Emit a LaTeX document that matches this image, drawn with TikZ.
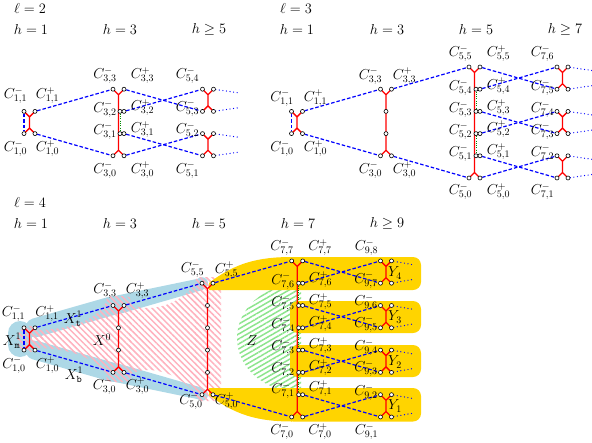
\documentclass[tikz,border=0pt]{standalone}
\usetikzlibrary{patterns,patterns.meta}
\definecolor{gold}{RGB}{255,212,0}
\definecolor{lblue}{RGB}{173,216,230}
\definecolor{pinkh}{RGB}{255,178,190}
\definecolor{greenh}{RGB}{140,228,140}
\definecolor{dgreen}{RGB}{0,140,0}
\pgfdeclarelayer{bg}\pgfdeclarelayer{ln}\pgfsetlayers{bg,ln,main}
\newcommand\PairT[3]{\node[pt] (#1m) at ({#2-5.5},#3) {};\node[pt] (#1p) at ({#2+5.5},#3) {};\coordinate (#1j) at (#2,{#3+5.5});}
\newcommand\PairB[3]{\node[pt] (#1m) at ({#2-5.5},#3) {};\node[pt] (#1p) at ({#2+5.5},#3) {};\coordinate (#1j) at (#2,{#3-5.5});}
\newcommand\PairI[3]{\node[pt] (#1m) at ({#2+1.5},#3) {};\node[pt] (#1p) at ({#2+5.5},#3) {};}
\newcommand\Single[3]{\node[pt] (#1) at (#2,#3) {};}
\newcommand\lab[4]{\node[lab] (#1) at (#2,#3) {$#4$};}
\newcommand\RedU[2]{\draw[rl] (#1m.center) -- (#1j) -- (#1p.center) (#2m.center) -- (#2j) -- (#2p.center) (#1j) -- (#2j);}
\begin{document}
\begin{tikzpicture}[x=1pt,y=-1pt,font=\fontsize{14.4}{17}\selectfont,
  pt/.style={circle,draw=black,fill=white,inner sep=0pt,minimum size=4pt,line width=0.6pt},
  lab/.style={inner sep=0pt},
  bdash/.style={blue,line width=1.2pt,dash pattern=on 3.5pt off 2pt},
  bdot/.style={blue,line width=1.3pt,line cap=round,dash pattern=on 0pt off 3.6pt},
  rl/.style={red,line width=1.3pt},
  gdot/.style={dgreen,line width=0.9pt,dash pattern=on 0.9pt off 1.4pt},
  pinkhatch/.style={pattern={Lines[angle=-45,distance=4.3pt,line width=1.5pt]},pattern color=pinkh},
  greenhatch/.style={pattern={Lines[angle=30,distance=4.3pt,line width=1.5pt]},pattern color=greenh}]
\useasboundingbox (0,0) rectangle (592,442);
% ---------------- l = 2 ----------------
\PairT{a1t}{29.5}{111.4}\PairB{a1b}{29.5}{133.6}
\PairT{a3t}{118.5}{89.2}\PairI{a3i3}{118.5}{111.4}\PairI{a3i2}{118.5}{133.6}\PairB{a3b}{118.5}{155.8}
\PairT{a5u}{208}{89.2}\PairB{a5v}{208}{111.4}\PairT{a5w}{208}{133.6}\PairB{a5x}{208}{155.8}
\coordinate (a5ue) at (237.5,92.7);\coordinate (a5ve) at (237.5,107.9);
\coordinate (a5we) at (237.5,137.1);\coordinate (a5xe) at (237.5,152.3);
% ---------------- l = 3 ----------------
\PairT{b1t}{297}{111.4}\PairB{b1b}{297}{133.6}
\PairT{b3t}{386}{89.2}\Single{b3s3}{386}{111.4}\Single{b3s2}{386}{133.6}\PairB{b3b}{386}{155.8}
\PairT{b5t}{474.5}{67}\PairI{b5i4}{474.5}{89.2}\PairI{b5i3}{474.5}{111.4}\PairI{b5i2}{474.5}{133.6}\PairI{b5i1}{474.5}{155.8}\PairB{b5b}{474.5}{178}
\PairT{b7u}{562.5}{67}\PairB{b7v}{562.5}{89.2}\PairT{b7w}{562.5}{111.4}\PairB{b7x}{562.5}{133.6}\PairT{b7y}{562.5}{155.8}\PairB{b7z}{562.5}{178}
\coordinate (b7ue) at (592,70.5);\coordinate (b7ve) at (592,85.7);
\coordinate (b7we) at (592,114.9);\coordinate (b7xe) at (592,130.1);
\coordinate (b7ye) at (592,159.3);\coordinate (b7ze) at (592,174.5);
% ---------------- l = 4 ----------------
\PairT{c1t}{29.5}{327.8}\PairB{c1b}{29.5}{350.1}
\PairT{c3t}{118.5}{305.5}\Single{c3s4}{118.5}{327.8}\Single{c3s3}{118.5}{350.1}\PairB{c3b}{118.5}{372.4}
\PairT{c5t}{207.5}{283.2}\Single{c5s5}{207.5}{305.5}\Single{c5s4}{207.5}{327.8}\Single{c5s3}{207.5}{350.1}\Single{c5s2}{207.5}{372.4}\PairB{c5b}{207.5}{394.7}
\PairT{c7t}{297.2}{260.9}\PairI{c7i6}{297.2}{283.2}\PairI{c7i5}{297.2}{305.5}\PairI{c7i4}{297.2}{327.8}\PairI{c7i3}{297.2}{350.1}\PairI{c7i2}{297.2}{372.4}\PairI{c7i1}{297.2}{394.7}\PairB{c7b}{297.2}{417}
\PairT{c9a}{386}{260.9}\PairB{c9b}{386}{283.2}\PairT{c9c}{386}{305.5}\PairB{c9d}{386}{327.8}
\PairT{c9e}{386}{350.1}\PairB{c9f}{386}{372.4}\PairT{c9g}{386}{394.7}\PairB{c9h}{386}{417}
\coordinate (c9ae) at (414,264.9);\coordinate (c9be) at (414,279.2);
\coordinate (c9ce) at (414,309.5);\coordinate (c9de) at (414,323.8);
\coordinate (c9ee) at (414,354.1);\coordinate (c9fe) at (414,368.4);
\coordinate (c9ge) at (414,398.7);\coordinate (c9he) at (414,413);
% ---------------- regions ----------------
\begin{pgfonlayer}{bg}
\draw[lblue,line width=24pt,line cap=round] (20,333) -- (20,345);
\draw[lblue,line width=19pt,line cap=round] (c1tp.center) -- (c3tm.center);
\fill[lblue] (110.7,296.8) -- (200.6,278.2) -- (203.4,289.8) -- (115.3,315.2) -- cycle;
\fill[lblue] (c5tm.center) circle (6);
\draw[lblue,line width=19pt,line cap=round] (c1bp.center) -- (c3bm.center);
\fill[lblue] (110.7,381.1) -- (200.6,399.7) -- (203.4,388.1) -- (115.3,362.7) -- cycle;
\fill[lblue] (c5bm.center) circle (6);
\fill[pinkhatch] (30,339) circle (13);
\fill[pinkhatch] (34,330) .. controls (70,330) and (100,320) .. (108,298) -- (108,380) .. controls (100,358) and (70,348) .. (34,348) -- cycle;
\fill[pinkhatch,rounded corners=5pt] (106,296) rectangle (131,382);
\fill[pinkhatch] (129,303) .. controls (150,316) and (185,302) .. (197,281) -- (197,397) .. controls (185,376) and (150,362) .. (129,375) -- cycle;
\fill[pinkhatch,rounded corners=5pt] (195,277) rectangle (221,401);
\fill[greenhatch] (301,284) .. controls (262,284) and (237,310) .. (237,338) .. controls (237,366) and (262,392) .. (301,392) -- cycle;
\fill[gold] (209,290) -- (209,283) .. controls (235,263) and (258,257) .. (292,257) -- (292,290) -- cycle;
\fill[gold,rounded corners=8pt] (285,257) rectangle (421,290);
\fill[gold] (209,388) -- (209,395) .. controls (235,415) and (258,421.5) .. (292,421.5) -- (292,388) -- cycle;
\fill[gold,rounded corners=8pt] (285,388) rectangle (421,421.5);
\fill[gold,rounded corners=8pt] (290,301) rectangle (421,333);
\fill[gold,rounded corners=8pt] (290,345) rectangle (421,377);
\end{pgfonlayer}
% ---------------- connectors ----------------
\begin{pgfonlayer}{ln}
% l=2
\draw[bdash] (a1tm) -- (a1bm);
\draw[bdash] (a1tp) -- (a3tm);\draw[bdash] (a1bp) -- (a3bm);
\draw[bdash] (a3tp) -- (a5vm);\draw[bdash] (a3i3p) -- (a5um);
\draw[bdash] (a3i2p) -- (a5xm);\draw[bdash] (a3bp) -- (a5wm);
\draw[bdot] (a5up) -- (a5ue);\draw[bdot] (a5vp) -- (a5ve);\draw[bdot] (a5wp) -- (a5we);\draw[bdot] (a5xp) -- (a5xe);
\RedU{a1t}{a1b}\RedU{a3t}{a3b}\RedU{a5u}{a5v}\RedU{a5w}{a5x}
\draw[gdot] (a3i3m) -- (a3i2m);
% l=3
\draw[bdash] (b1tm) -- (b1bm);
\draw[bdash] (b1tp) -- (b3tm);\draw[bdash] (b1bp) -- (b3bm);
\draw[bdash] (b3tp) -- (b5tm);\draw[bdash] (b3bp) -- (b5bm);
\draw[bdash] (b5tp) -- (b7vm);\draw[bdash] (b5i4p) -- (b7um);
\draw[bdash] (b5i3p) -- (b7xm);\draw[bdash] (b5i2p) -- (b7wm);
\draw[bdash] (b5i1p) -- (b7zm);\draw[bdash] (b5bp) -- (b7ym);
\draw[bdot] (b7up) -- (b7ue);\draw[bdot] (b7vp) -- (b7ve);\draw[bdot] (b7wp) -- (b7we);
\draw[bdot] (b7xp) -- (b7xe);\draw[bdot] (b7yp) -- (b7ye);\draw[bdot] (b7zp) -- (b7ze);
\RedU{b1t}{b1b}\RedU{b3t}{b3b}\RedU{b5t}{b5b}\RedU{b7u}{b7v}\RedU{b7w}{b7x}\RedU{b7y}{b7z}
\draw[gdot] (b5i4m) -- (b5i3m);\draw[gdot] (b5i2m) -- (b5i1m);
% l=4
\draw[bdash] (c1tm) -- (c1bm);
\draw[bdash] (c1tp) -- (c3tm);\draw[bdash] (c1bp) -- (c3bm);
\draw[bdash] (c3tp) -- (c5tm);\draw[bdash] (c3bp) -- (c5bm);
\draw[bdash] (c5tp) -- (c7tm);\draw[bdash] (c5bp) -- (c7bm);
\draw[bdash] (c7tp) -- (c9bm);\draw[bdash] (c7i6p) -- (c9am);
\draw[bdash] (c7i5p) -- (c9dm);\draw[bdash] (c7i4p) -- (c9cm);
\draw[bdash] (c7i3p) -- (c9fm);\draw[bdash] (c7i2p) -- (c9em);
\draw[bdash] (c7i1p) -- (c9hm);\draw[bdash] (c7bp) -- (c9gm);
\draw[bdot] (c9ap) -- (c9ae);\draw[bdot] (c9bp) -- (c9be);\draw[bdot] (c9cp) -- (c9ce);\draw[bdot] (c9dp) -- (c9de);
\draw[bdot] (c9ep) -- (c9ee);\draw[bdot] (c9fp) -- (c9fe);\draw[bdot] (c9gp) -- (c9ge);\draw[bdot] (c9hp) -- (c9he);
\RedU{c1t}{c1b}\RedU{c3t}{c3b}\RedU{c5t}{c5b}\RedU{c7t}{c7b}
\RedU{c9a}{c9b}\RedU{c9c}{c9d}\RedU{c9e}{c9f}\RedU{c9g}{c9h}
\draw[gdot] (c7i6m) -- (c7i5m);\draw[gdot] (c7i4m) -- (c7i3m);\draw[gdot] (c7i2m) -- (c7i1m);
\end{pgfonlayer}
% ---------------- labels l=2 ----------------
\lab{ta}{30}{8}{\ell=2}
\lab{ha1}{31}{29}{h=1}\lab{ha3}{120}{29}{h=3}\lab{ha5}{209}{29}{h\geq 5}
\lab{La11m}{15.5}{95.5}{C^-_{1,1}}\lab{La11p}{47.5}{95.5}{C^+_{1,1}}
\lab{La10m}{15.5}{148.5}{C^-_{1,0}}\lab{La10p}{47.5}{148.5}{C^+_{1,0}}
\lab{La33m}{105}{75.5}{C^-_{3,3}}\lab{La33p}{142.5}{75.5}{C^+_{3,3}}
\lab{La32m}{105}{109}{C^-_{3,2}}\lab{La32p}{142.5}{107.5}{C^+_{3,2}}
\lab{La31m}{105}{131}{C^-_{3,1}}\lab{La31p}{142.5}{129.5}{C^+_{3,1}}
\lab{La30m}{105}{170}{C^-_{3,0}}\lab{La30p}{142.5}{170}{C^+_{3,0}}
\lab{La54}{187.5}{75.5}{C^-_{5,4}}\lab{La53}{187.5}{108}{C^-_{5,3}}
\lab{La52}{187.5}{130.5}{C^-_{5,2}}\lab{La51}{187.5}{170}{C^-_{5,1}}
% ---------------- labels l=3 ----------------
\lab{tb}{296}{8}{\ell=3}
\lab{hb1}{297}{29}{h=1}\lab{hb3}{387}{29}{h=3}\lab{hb5}{476}{29}{h=5}\lab{hb7}{565}{29}{h\geq 7}
\lab{Lb11m}{282}{98}{C^-_{1,1}}\lab{Lb11p}{315.5}{98}{C^+_{1,1}}
\lab{Lb10m}{282}{148.5}{C^-_{1,0}}\lab{Lb10p}{315.5}{148.5}{C^+_{1,0}}
\lab{Lb33m}{370.5}{76}{C^-_{3,3}}\lab{Lb33p}{404.5}{76}{C^+_{3,3}}
\lab{Lb30m}{370.5}{170}{C^-_{3,0}}\lab{Lb30p}{404.5}{170}{C^+_{3,0}}
\lab{Lb55m}{460.5}{53.5}{C^-_{5,5}}\lab{Lb55p}{498.5}{53.5}{C^+_{5,5}}
\lab{Lb54m}{460.5}{87.5}{C^-_{5,4}}\lab{Lb54p}{498.5}{86}{C^+_{5,4}}
\lab{Lb53m}{460.5}{109.5}{C^-_{5,3}}\lab{Lb53p}{498.5}{107.5}{C^+_{5,3}}
\lab{Lb52m}{460.5}{131}{C^-_{5,2}}\lab{Lb52p}{498.5}{129}{C^+_{5,2}}
\lab{Lb51m}{460.5}{153}{C^-_{5,1}}\lab{Lb51p}{498.5}{151.5}{C^+_{5,1}}
\lab{Lb50m}{460.5}{191.5}{C^-_{5,0}}\lab{Lb50p}{498.5}{191.5}{C^+_{5,0}}
\lab{Lb76}{542.5}{53.5}{C^-_{7,6}}\lab{Lb75}{542.5}{87.5}{C^-_{7,5}}
\lab{Lb74}{542.5}{109.5}{C^-_{7,4}}\lab{Lb73}{542.5}{131}{C^-_{7,3}}
\lab{Lb72}{542.5}{153}{C^-_{7,2}}\lab{Lb71}{542.5}{191.5}{C^-_{7,1}}
% ---------------- labels l=4 ----------------
\lab{tc}{30}{202}{\ell=4}
\lab{hc1}{31}{223}{h=1}\lab{hc3}{120}{223}{h=3}\lab{hc5}{209}{223}{h=5}\lab{hc7}{298}{223}{h=7}\lab{hc9}{387}{223}{h\geq 9}
\lab{Lc11m}{13.5}{313.5}{C^-_{1,1}}\lab{Lc11p}{47}{313.5}{C^+_{1,1}}
\lab{Lc10m}{14}{365}{C^-_{1,0}}\lab{Lc10p}{47.5}{365}{C^+_{1,0}}
\lab{Lc33m}{105}{290.5}{C^-_{3,3}}\lab{Lc33p}{137.5}{290.5}{C^+_{3,3}}
\lab{Lc30m}{104.5}{386}{C^-_{3,0}}\lab{Lc30p}{137.5}{386}{C^+_{3,0}}
\lab{Lc55m}{192.5}{269.5}{C^-_{5,5}}\lab{Lc55p}{226.5}{270}{C^+_{5,5}}
\lab{Lc50m}{191}{401}{C^-_{5,0}}\lab{Lc50p}{226.5}{401}{C^+_{5,0}}
\lab{Lc77m}{282}{247.5}{C^-_{7,7}}\lab{Lc77p}{320}{247.5}{C^+_{7,7}}
\lab{Lc76m}{283}{281}{C^-_{7,6}}\lab{Lc76p}{320.5}{279.5}{C^+_{7,6}}
\lab{Lc75m}{283}{303.5}{C^-_{7,5}}\lab{Lc75p}{320.5}{301.5}{C^+_{7,5}}
\lab{Lc74m}{283}{325.5}{C^-_{7,4}}\lab{Lc74p}{320.5}{323.5}{C^+_{7,4}}
\lab{Lc73m}{283}{347.5}{C^-_{7,3}}\lab{Lc73p}{320.5}{345.5}{C^+_{7,3}}
\lab{Lc72m}{283}{369.5}{C^-_{7,2}}\lab{Lc72p}{320.5}{367.5}{C^+_{7,2}}
\lab{Lc71m}{283}{390.5}{C^-_{7,1}}\lab{Lc71p}{320.5}{388.5}{C^+_{7,1}}
\lab{Lc70m}{282}{431.5}{C^-_{7,0}}\lab{Lc70p}{320}{431.5}{C^+_{7,0}}
\lab{Lc98}{366.5}{247.5}{C^-_{9,8}}\lab{Lc97}{366}{280}{C^-_{9,7}}
\lab{Lc96}{366}{302.5}{C^-_{9,6}}\lab{Lc95}{366}{324}{C^-_{9,5}}
\lab{Lc94}{366}{347.5}{C^-_{9,4}}\lab{Lc93}{366}{368.5}{C^-_{9,3}}
\lab{Lc92}{366}{392.5}{C^-_{9,2}}\lab{Lc91}{366.5}{431.5}{C^-_{9,1}}
\lab{Y4}{395}{273}{Y_4}\lab{Y3}{395}{317}{Y_3}\lab{Y2}{395}{362}{Y_2}\lab{Y1}{395}{406}{Y_1}
\lab{Xm}{12}{341}{X^1_{\mathtt{m}}}\lab{Xt}{73}{319}{X^1_{\mathtt{t}}}\lab{Xb}{74}{375}{X^1_{\mathtt{b}}}
\lab{X0}{102}{339.5}{X^0}\lab{Zl}{252}{341}{Z}
\end{tikzpicture}
\end{document}
